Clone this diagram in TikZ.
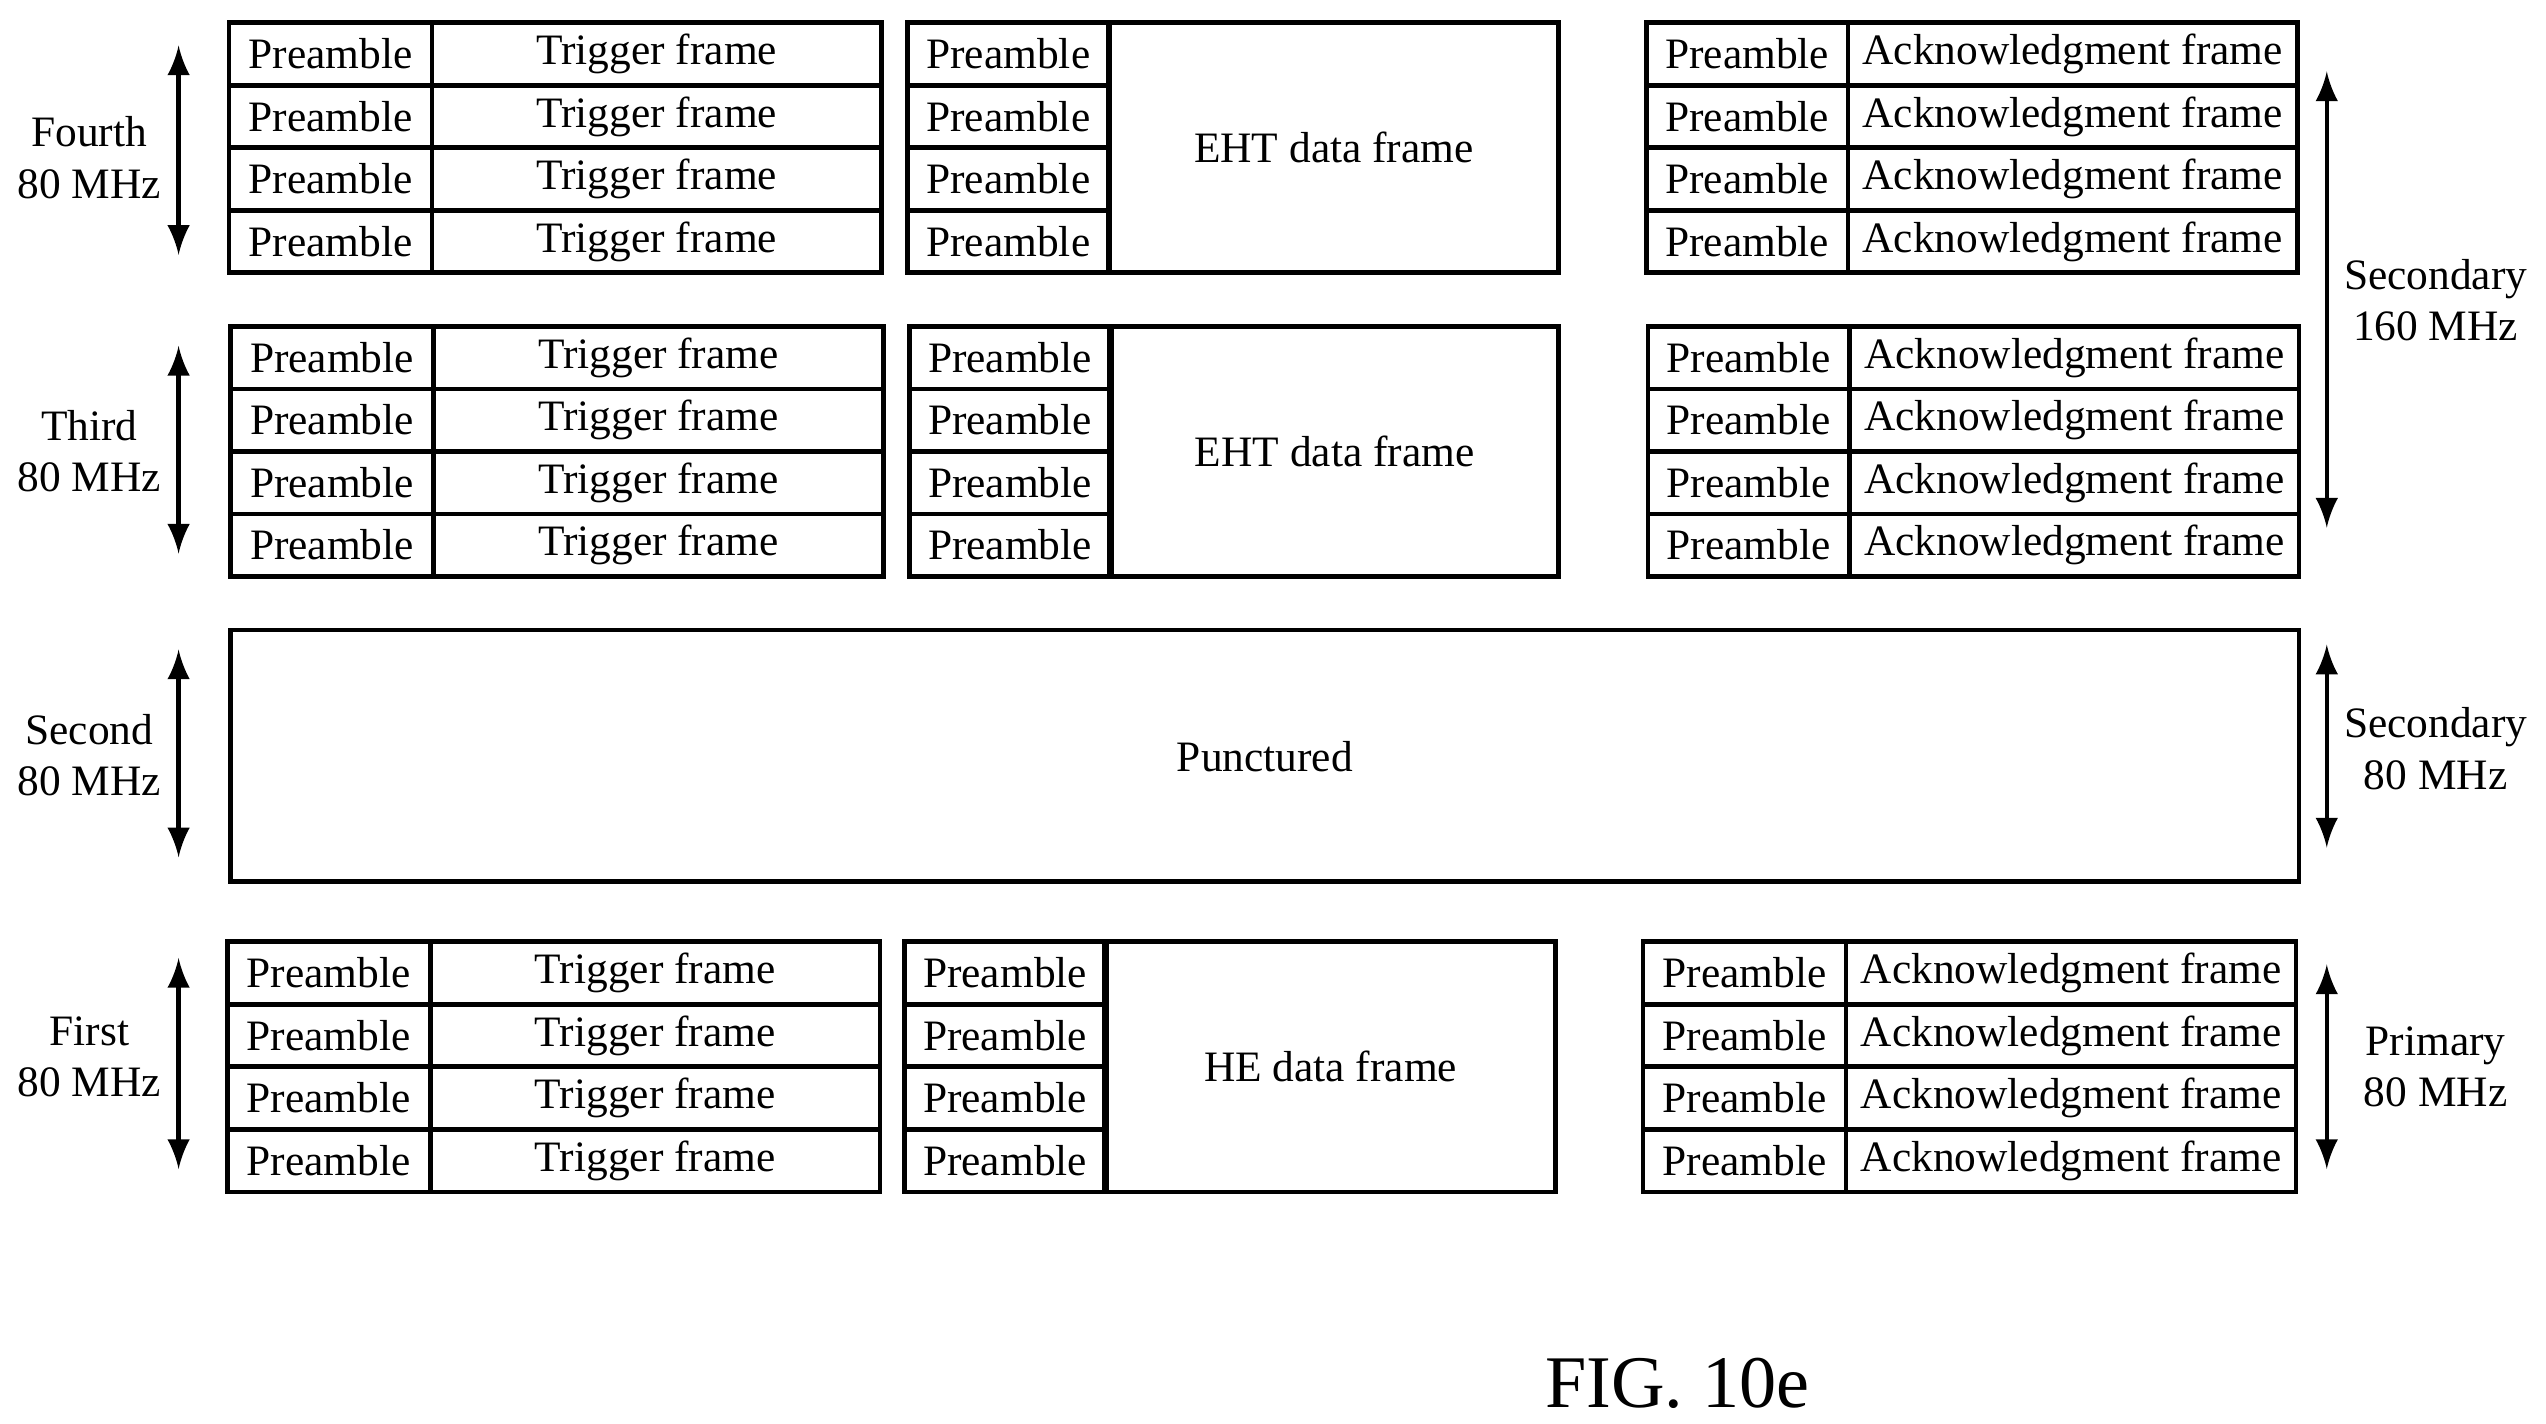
\documentclass[tikz,border=0pt]{standalone}
\usepackage{fontspec}
\setmainfont{Liberation Serif}
\begin{document}
\begin{tikzpicture}[x=0.01cm,y=-0.01cm,
  cell/.style={draw,thick,inner sep=0pt},
  lbl/.style={font=\fontsize{7.6}{9}\selectfont,align=center},
  arr/.style={thick,<->,>=latex}]
\useasboundingbox (0,0) rectangle (1568,877);
\newcommand{\rowgrp}[7]{% y0 dy xa xb xc label name
  \foreach \i in {0,1,2,3}{
    \pgfmathsetmacro{\ya}{#1+\i*#2}\pgfmathsetmacro{\yb}{#1+(\i+1)*#2}
    \draw[cell] (#3,\ya) rectangle (#4,\yb);
    \draw[cell] (#4,\ya) rectangle (#5,\yb);
    \node[lbl] (#7p\i) at ({(#3+#4)/2},{(\ya+\yb)/2}) {Preamble};
    \node[lbl] (#7f\i) at ({(#4+#5)/2},{(\ya+\yb)/2}) {#6};
  }}
\newcommand{\datagrp}[6]{% y0 dy xa xb xc label
  \draw[cell] (#3,#1) rectangle (#5,{#1+4*#2});
  \draw[very thick] (#4,#1) -- (#4,{#1+4*#2});
  \foreach \i in {0,1,2,3}{
    \pgfmathsetmacro{\ya}{#1+\i*#2}\pgfmathsetmacro{\yb}{#1+(\i+1)*#2}
    \draw[cell] (#3,\ya) rectangle (#4,\yb);
    \node[lbl] at ({(#3+#4)/2},{(\ya+\yb)/2}) {Preamble};}
  \node[lbl] at ({(#4+#5)/2},{#1+2*#2}) {#6};}
% Fourth
\rowgrp{14}{38.5}{141}{266}{543}{Trigger frame}{a}
\datagrp{14}{38.5}{559}{683}{960}{EHT data frame}
\rowgrp{14}{38.5}{1014}{1138}{1415}{Acknowledgment frame}{b}
% Third
\rowgrp{201}{38.5}{142}{267}{544}{Trigger frame}{c}
\datagrp{201}{38.5}{560}{684}{960}{EHT data frame}
\rowgrp{201}{38.5}{1015}{1139}{1416}{Acknowledgment frame}{d}
% Second
\draw[cell] (142,388) rectangle (1416,543);
\node[lbl] (punc) at (779,466) {Punctured};
% First
\rowgrp{580}{38.5}{140}{265}{542}{Trigger frame}{e}
\datagrp{580}{38.5}{557}{681}{958}{HE data frame}
\rowgrp{580}{38.5}{1012}{1137}{1414}{Acknowledgment frame}{f}
% left arrows
\coordinate (l1a) at (110,28); \coordinate (l1b) at (110,157);
\coordinate (l2a) at (110,213); \coordinate (l2b) at (110,341);
\coordinate (l3a) at (110,400); \coordinate (l3b) at (110,528);
\coordinate (l4a) at (110,590); \coordinate (l4b) at (110,720);
\draw[arr] (l1a) -- (l1b); \draw[arr] (l2a) -- (l2b);
\draw[arr] (l3a) -- (l3b); \draw[arr] (l4a) -- (l4b);
\node[lbl] at (55,97) {Fourth\\80 MHz};
\node[lbl] at (55,278) {Third\\80 MHz};
\node[lbl] at (55,465) {Second\\80 MHz};
\node[lbl] at (55,651) {First\\80 MHz};
% right arrows
\coordinate (r1a) at (1433,44); \coordinate (r1b) at (1433,325);
\coordinate (r2a) at (1433,397); \coordinate (r2b) at (1433,522);
\coordinate (r3a) at (1433,594); \coordinate (r3b) at (1433,720);
\draw[arr] (r1a) -- (r1b); \draw[arr] (r2a) -- (r2b); \draw[arr] (r3a) -- (r3b);
\node[lbl] at (1500,185) {Secondary\\160 MHz};
\node[lbl] at (1500,461) {Secondary\\80 MHz};
\node[lbl] at (1500,657) {Primary\\80 MHz};
\node[font=\fontsize{13}{15}\selectfont] at (1033,852) {FIG. 10e};
\end{tikzpicture}
\end{document}
